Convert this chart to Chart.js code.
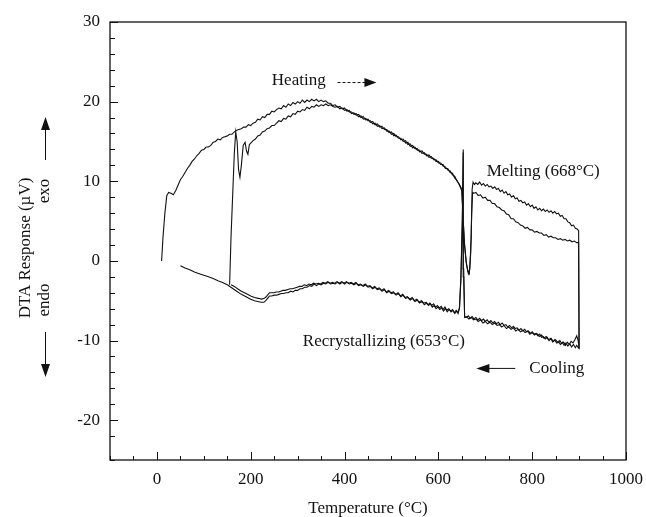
<!DOCTYPE html>
<html>
<head>
<meta charset="utf-8">
<script src="https://cdn.jsdelivr.net/npm/chart.js@4.4.0/dist/chart.umd.min.js"></script>
<style>
  body { margin: 0; background: #fff; }
  #wrap { width: 646px; height: 517px; }
</style>
</head>
<body>
<div id="wrap"><canvas id="dta" width="646" height="517"></canvas></div>
<script>
// tick labels
const xTickLabels = [0, 200, 400, 600, 800, 1000]
const yTickLabels = [-20, -10, 0, 10, 20, 30]

// run 1 : heating from room temp, then cooling back down  [T (°C), response (µV)]
const run1Heat = [[10,0],[13,3],[17,6],[21,8.2],[25,8.6],[30,8.5],[35,8.3],[40,8.8],[45,9.5],[50,10.2],[55,10.6],[60,11.1],[65,11.6],[70,12],[75,12.5],[80,12.8],[85,13.2],[90,13.5],[95,13.9],[100,14],[105,14.3],[110,14.3],[115,14.5],[120,14.9],[125,15],[130,15.3],[135,15.2],[140,15.5],[145,15.6],[150,15.7],[155,15.9],[160,15.9],[165,16.2],[170,16.4],[175,16.5],[180,16.6],[185,16.8],[190,16.8],[195,17.1],[200,17],[205,17.3],[210,17.4],[215,17.8],[220,17.7],[225,18.1],[230,18],[235,18.4],[240,18.4],[245,18.8],[250,18.7],[255,19],[260,19.2],[265,19.1],[270,19.5],[275,19.3],[280,19.7],[285,19.5],[290,19.9],[295,19.7],[300,20],[305,19.8],[310,20.2],[315,19.9],[320,20.2],[325,20],[330,20.3],[335,20.1],[340,20.3],[345,20],[350,20.2],[355,20],[360,20.1],[365,19.8],[370,19.8],[375,19.5],[380,19.6],[385,19.3],[390,19.4],[395,19.1],[400,19.2],[405,18.8],[410,18.9],[415,18.5],[420,18.6],[425,18.3],[430,18.4],[435,18],[440,18.1],[445,17.7],[450,17.8],[455,17.4],[460,17.5],[465,17.1],[470,17.2],[475,16.8],[480,16.9],[485,16.5],[490,16.5],[495,16.1],[500,16.2],[505,15.7],[510,15.8],[515,15.4],[520,15.4],[525,15],[530,15.1],[535,14.6],[540,14.7],[545,14.2],[550,14.3],[555,13.9],[560,13.9],[565,13.5],[570,13.6],[575,13.2],[580,13.3],[585,12.9],[590,12.9],[595,12.5],[600,12.5],[605,12.1],[610,12.1],[615,11.6],[620,11.6],[625,11.1],[630,11],[635,10.4],[640,10.1],[645,9.5],[650,8.8],[652,6],[656,2],[660,-0.5],[664,-1.6],[667,-1],[670,3],[672,9],[674,9.9],[677,9.6],[680,9.8],[684,9.6],[688,9.9],[692,9.5],[696,9.7],[700,9.4],[704,9.6],[708,9.3],[712,9.4],[716,9.1],[720,9.3],[724,9],[728,9.1],[732,8.7],[736,8.9],[740,8.5],[744,8.7],[748,8.3],[752,8.4],[756,8],[760,8.2],[764,7.8],[768,7.9],[772,7.5],[776,7.6],[780,7.3],[784,7.4],[788,7],[792,7.2],[796,6.8],[800,7],[804,6.6],[808,6.8],[812,6.4],[816,6.6],[820,6.3],[824,6.5],[828,6.2],[832,6.4],[836,6.1],[840,6.3],[844,6],[848,6.2],[852,5.9],[856,6],[860,5.6],[864,5.7],[868,5.3],[872,5.3],[876,4.9],[880,4.8],[884,4.4],[888,4.5],[892,4.1],[896,4],[899,3.8]]
const run1Cool = [[900,-11],[898,-10],[895,-9.4],[891,-9.9],[887,-10.3],[883,-10.1],[879,-10.5],[875,-10.2],[871,-10.6],[867,-10.2],[863,-10.4],[859,-10],[855,-10.3],[850,-9.9],[845,-10.1],[840,-9.7],[835,-9.9],[830,-9.5],[825,-9.7],[820,-9.3],[815,-9.5],[810,-9.1],[805,-9.3],[800,-9],[795,-9.2],[790,-8.8],[785,-9],[780,-8.7],[775,-8.9],[770,-8.6],[765,-8.8],[760,-8.4],[755,-8.6],[750,-8.3],[745,-8.5],[740,-8.1],[735,-8.3],[730,-8],[725,-8.1],[720,-7.8],[715,-8],[710,-7.7],[705,-7.9],[700,-7.6],[695,-7.8],[690,-7.4],[685,-7.6],[680,-7.3],[675,-7.4],[670,-7.1],[665,-7.3],[660,-7],[656,-7.1],[654,-2],[653,14],[651,5],[648,-2],[645,-5.8],[642,-6.6],[639,-6.3],[635,-6.6],[631,-6.2],[627,-6.4],[623,-6.1],[619,-6.4],[615,-6],[611,-6.3],[607,-5.9],[603,-6.1],[599,-5.8],[595,-6],[591,-5.6],[587,-5.8],[583,-5.4],[579,-5.6],[575,-5.3],[570,-5.5],[565,-5.1],[560,-5.3],[555,-4.9],[550,-5.1],[545,-4.7],[540,-4.9],[535,-4.6],[530,-4.7],[525,-4.3],[520,-4.5],[515,-4.1],[510,-4.3],[505,-4],[500,-4.1],[495,-3.8],[490,-4],[485,-3.6],[480,-3.8],[475,-3.5],[470,-3.6],[465,-3.3],[460,-3.5],[455,-3.2],[450,-3.3],[445,-3],[440,-3.2],[435,-3],[430,-3.1],[425,-2.8],[420,-3],[415,-2.8],[410,-2.9],[405,-2.7],[400,-2.9],[395,-2.7],[390,-2.9],[385,-2.7],[380,-2.9],[375,-2.8],[370,-2.9],[365,-2.7],[360,-2.9],[355,-2.8],[350,-3],[345,-2.9],[340,-3.1],[335,-2.9],[330,-3.2],[325,-3.1],[320,-3.3],[315,-3.3],[310,-3.5],[305,-3.5],[300,-3.7],[295,-3.7],[290,-3.9],[285,-3.8],[280,-4],[275,-4],[270,-4.1],[265,-4.1],[260,-4.2],[255,-4.3],[250,-4.3],[245,-4.4],[240,-4.4],[236,-4.7],[232,-5],[228,-5.2],[222,-5.2],[215,-5.1],[208,-5],[200,-4.8],[190,-4.5],[180,-4.2],[170,-3.8],[160,-3.4],[150,-3],[140,-2.7],[130,-2.5],[120,-2.2],[110,-2],[100,-1.8],[90,-1.6],[80,-1.4],[70,-1.1],[60,-0.9],[50,-0.6]]

// run 2 : heating starts at ~155 °C
const run2Heat = [[155,-3],[158,3],[162,9],[165,13.5],[168,16.2],[171,15],[174,11.5],[177,10.5],[180,12],[184,14.5],[188,14.9],[191,13.8],[194,13.4],[197,14.6],[200,14.8],[205,15.1],[210,15.3],[215,15.7],[220,15.8],[225,16.2],[230,16.3],[235,16.6],[240,16.7],[245,17],[250,17],[255,17.3],[260,17.6],[265,17.5],[270,17.9],[275,17.8],[280,18.2],[285,18.1],[290,18.5],[295,18.4],[300,18.8],[305,18.7],[310,19],[315,18.9],[320,19.3],[325,19.1],[330,19.4],[335,19.3],[340,19.6],[345,19.4],[350,19.6],[355,19.5],[360,19.7],[365,19.5],[370,19.6],[375,19.4],[380,19.3],[385,19.4],[390,19.1],[395,19.2],[400,18.9],[405,19],[410,18.7],[415,18.7],[420,18.4],[425,18.5],[430,18.1],[435,18.2],[440,17.8],[445,17.9],[450,17.6],[455,17.6],[460,17.2],[465,17.3],[470,16.9],[475,17],[480,16.6],[485,16.7],[490,16.3],[495,16.3],[500,15.9],[505,16],[510,15.6],[515,15.6],[520,15.2],[525,15.3],[530,14.8],[535,14.9],[540,14.4],[545,14.5],[550,14.1],[555,14.1],[560,13.7],[565,13.8],[570,13.4],[575,13.4],[580,13],[585,13.1],[590,12.7],[595,12.7],[600,12.3],[605,12.3],[610,11.9],[615,11.8],[620,11.4],[625,11.3],[630,10.8],[635,10.6],[640,10],[645,9.6],[650,9],[652,6.5],[655,2.5],[659,0],[663,-1.3],[666,-1.6],[669,1],[671,6],[673,8.6],[676,8.5],[680,8.6],[685,8.2],[690,8.3],[695,7.9],[700,8],[705,7.6],[710,7.6],[715,7.2],[720,7.2],[725,6.8],[730,6.7],[735,6.4],[740,6.3],[745,5.9],[750,5.8],[755,5.3],[760,5.3],[765,4.9],[770,4.8],[775,4.5],[780,4.4],[785,4.1],[790,4.2],[795,3.9],[800,3.9],[805,3.6],[810,3.7],[815,3.5],[820,3.5],[825,3.2],[830,3.3],[835,3],[840,3.1],[845,2.9],[850,2.9],[855,2.7],[860,2.8],[865,2.6],[870,2.7],[875,2.5],[880,2.6],[885,2.4],[890,2.5],[895,2.3],[899,2.3]]
const run2Cool = [[900,-11],[898,-10.9],[895,-10.6],[892,-10.9],[888,-10.5],[884,-10.8],[880,-10.4],[876,-10.7],[872,-10.3],[868,-10.6],[864,-10.2],[860,-10.5],[856,-10.1],[852,-10.3],[848,-9.9],[844,-10.2],[840,-9.8],[836,-10],[832,-9.6],[828,-9.8],[824,-9.5],[820,-9.6],[816,-9.2],[812,-9.4],[808,-9.1],[804,-9.2],[800,-8.9],[796,-9.1],[792,-8.8],[788,-8.9],[784,-8.6],[780,-8.8],[776,-8.5],[772,-8.7],[768,-8.4],[764,-8.5],[760,-8.2],[756,-8.4],[752,-8.1],[748,-8.3],[744,-8],[740,-8.1],[736,-7.8],[732,-8],[728,-7.7],[724,-7.9],[720,-7.6],[716,-7.8],[712,-7.5],[708,-7.7],[704,-7.4],[700,-7.6],[696,-7.3],[692,-7.5],[688,-7.2],[684,-7.4],[680,-7.1],[676,-7.3],[672,-7],[668,-7.2],[664,-6.9],[660,-7.1],[656,-7],[654,-1],[653,13.6],[651,4.5],[648,-2.5],[645,-6],[642,-6.5],[638,-6.2],[634,-6.5],[630,-6.1],[626,-6.3],[622,-6],[618,-6.2],[614,-5.8],[610,-6.1],[606,-5.7],[602,-5.9],[598,-5.6],[594,-5.8],[590,-5.4],[586,-5.6],[582,-5.3],[578,-5.5],[574,-5.2],[569,-5.3],[564,-5],[559,-5.2],[554,-4.8],[549,-5],[544,-4.6],[539,-4.8],[534,-4.5],[529,-4.6],[524,-4.2],[519,-4.4],[514,-4],[509,-4.2],[504,-3.9],[499,-4],[494,-3.7],[489,-3.9],[484,-3.5],[479,-3.7],[474,-3.4],[469,-3.5],[464,-3.2],[459,-3.4],[454,-3.1],[449,-3.2],[444,-2.9],[439,-3.1],[434,-2.9],[429,-3],[424,-2.7],[419,-2.9],[414,-2.7],[409,-2.8],[404,-2.6],[399,-2.8],[394,-2.6],[389,-2.8],[384,-2.6],[379,-2.8],[374,-2.7],[369,-2.8],[364,-2.6],[359,-2.8],[354,-2.7],[349,-2.9],[344,-2.8],[339,-2.9],[334,-2.8],[329,-3],[324,-2.9],[319,-3.1],[314,-3],[309,-3.2],[304,-3.2],[299,-3.3],[294,-3.4],[289,-3.5],[284,-3.5],[279,-3.6],[274,-3.7],[269,-3.7],[264,-3.8],[259,-3.9],[254,-3.9],[249,-4],[244,-4],[240,-4],[237,-4.2],[233,-4.5],[229,-4.7],[223,-4.8],[216,-4.7],[208,-4.6],[200,-4.4],[190,-4.1],[180,-3.8],[172,-3.5],[165,-3.2],[158,-3]]

const serif = "'Liberation Serif', 'Times New Roman', serif"
const ink = '#111'
Chart.defaults.font.family = serif
Chart.defaults.font.size = 17
Chart.defaults.color = ink

const toXY = pts => pts.map(p => ({x: p[0], y: p[1]}))
const lineSet = pts => ({
    data: toXY(pts),
    showLine: true,
    borderColor: ink,
    borderWidth: 1.1,
    pointRadius: 0,
    tension: 0,
    fill: false
})

function arrowHead(ctx, x, y, dx, dy, len, half){
    // tip at x,y, pointing along (dx,dy)
    ctx.beginPath()
    ctx.moveTo(x, y)
    ctx.lineTo(x - dx*len - dy*half, y - dy*len + dx*half)
    ctx.lineTo(x - dx*len + dy*half, y - dy*len - dx*half)
    ctx.closePath()
    ctx.fill()
}

// frame, inward ticks, annotations
const decor = {
    id: 'decor',
    afterDraw(chart){
        const {ctx, chartArea: a, scales: {x, y}} = chart
        ctx.save()
        ctx.strokeStyle = ink
        ctx.fillStyle = ink
        ctx.lineWidth = 1.3
        ctx.strokeRect(a.left, a.top, a.right - a.left, a.bottom - a.top)

        ctx.lineWidth = 1
        ctx.beginPath()
        x.ticks.forEach(t => {
            const px = Math.round(x.getPixelForValue(t.value)) + 0.5
            const len = xTickLabels.includes(t.value) ? 8 : 4
            ctx.moveTo(px, a.bottom); ctx.lineTo(px, a.bottom - len)
        })
        y.ticks.forEach(t => {
            const py = Math.round(y.getPixelForValue(t.value)) + 0.5
            const len = yTickLabels.includes(t.value) ? 8 : 5
            ctx.moveTo(a.left, py); ctx.lineTo(a.left + len, py)
        })
        ctx.stroke()

        // text labels placed in data units
        ctx.font = '17px ' + serif
        ctx.textBaseline = 'middle'
        ctx.textAlign = 'left'
        const P = (tx, vy) => [x.getPixelForValue(tx), y.getPixelForValue(vy)]
        let p = P(245, 22.7); ctx.fillText('Heating', p[0], p[1])
        p = P(703, 11.2); ctx.fillText('Melting (668\u00B0C)', p[0], p[1])
        p = P(311, -10.1); ctx.fillText('Recrystallizing (653\u00B0C)', p[0], p[1])
        p = P(794, -13.5); ctx.fillText('Cooling', p[0], p[1])

        // heating arrow (dashed)
        const h0 = P(385, 22.4), h1 = P(468, 22.4)
        ctx.lineWidth = 1
        ctx.setLineDash([3, 2])
        ctx.beginPath(); ctx.moveTo(h0[0], h0[1]); ctx.lineTo(h1[0] - 10, h1[1]); ctx.stroke()
        ctx.setLineDash([])
        arrowHead(ctx, h1[0], h1[1], 1, 0, 12, 4.5)

        // cooling arrow
        const c0 = P(764, -13.5), c1 = P(681, -13.5)
        ctx.beginPath(); ctx.moveTo(c0[0], c0[1]); ctx.lineTo(c1[0] + 10, c1[1]); ctx.stroke()
        arrowHead(ctx, c1[0], c1[1], -1, 0, 13, 4.5)

        // y axis title with exo / endo arrows
        ctx.save()
        ctx.translate(26, 248)
        ctx.rotate(-Math.PI/2)
        ctx.textAlign = 'center'
        ctx.fillText('DTA Response (\u00B5V)', 0, 0)
        ctx.restore()
        ctx.save()
        ctx.translate(45, 191)
        ctx.rotate(-Math.PI/2)
        ctx.textAlign = 'center'
        ctx.fillText('exo', 0, 0)
        ctx.restore()
        ctx.save()
        ctx.translate(45, 300)
        ctx.rotate(-Math.PI/2)
        ctx.textAlign = 'center'
        ctx.fillText('endo', 0, 0)
        ctx.restore()
        ctx.beginPath()
        ctx.moveTo(45.5, 160); ctx.lineTo(45.5, 128)
        ctx.moveTo(45.5, 332); ctx.lineTo(45.5, 365)
        ctx.stroke()
        arrowHead(ctx, 45.5, 117, 0, -1, 13, 4.5)
        arrowHead(ctx, 45.5, 377, 0, 1, 13, 4.5)
        ctx.restore()
    }
}

new Chart(document.getElementById('dta'), {
    type: 'scatter',
    data: {
        datasets: [
            lineSet(run1Heat.concat(run1Cool)),
            lineSet(run2Heat.concat(run2Cool))
        ]
    },
    options: {
        responsive: false,
        animation: false,
        events: [],
        layout: { padding: { top: 22, right: 20, left: 0, bottom: 0 } },
        plugins: { legend: { display: false }, tooltip: { enabled: false } },
        scales: {
            x: {
                type: 'linear',
                min: -100,
                max: 1000,
                grid: { display: false, drawTicks: false },
                border: { display: false },
                ticks: {
                    stepSize: 50,
                    autoSkip: false,
                    maxRotation: 0,
                    padding: 9,
                    color: ink,
                    callback: v => xTickLabels.includes(v) ? String(v) : ''
                },
                title: { display: true, text: 'Temperature (\u00B0C)', color: ink, font: { lineHeight: 1 }, padding: { top: 0, bottom: 0 } },
                afterFit: s => { s.height = 57; s.paddingLeft = 0; s.paddingRight = 0 }
            },
            y: {
                type: 'linear',
                min: -25,
                max: 30,
                grid: { display: false, drawTicks: false },
                border: { display: false },
                ticks: {
                    stepSize: 2,
                    autoSkip: false,
                    padding: 10,
                    color: ink,
                    callback: v => yTickLabels.includes(v) ? String(v) : ''
                },
                afterFit: s => { s.width = 110; s.paddingTop = 0; s.paddingBottom = 0 }
            }
        }
    },
    plugins: [decor]
})
</script>
</body>
</html>
